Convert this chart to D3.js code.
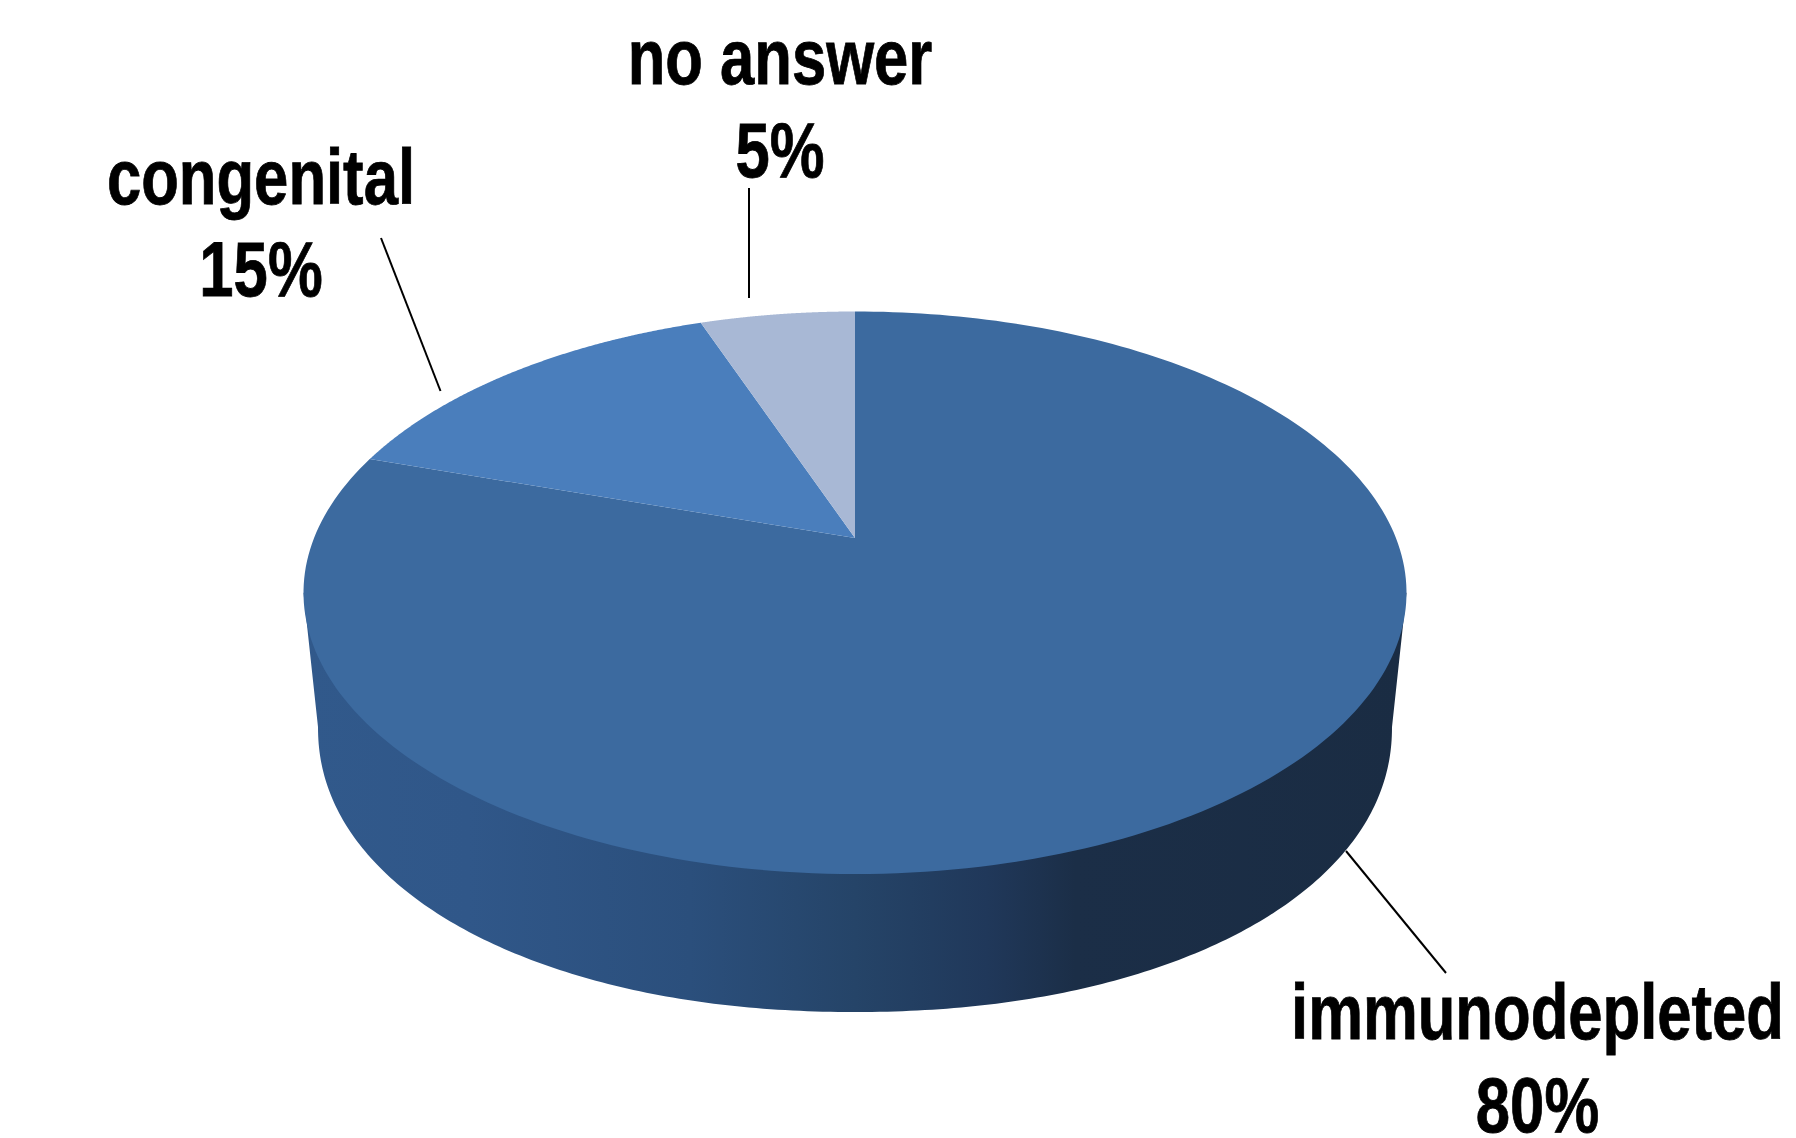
<!DOCTYPE html>
<html>
<head>
<meta charset="utf-8">
<title>Pie chart</title>
<script src="https://cdn.jsdelivr.net/npm/d3@7/dist/d3.min.js"></script>
<style>
  html, body { margin: 0; padding: 0; background: #fff; }
  svg { display: block; }
  text { font-family: "Liberation Sans", Arial, sans-serif; font-weight: 700; font-size: 78px; fill: #000; stroke: #000; stroke-width: 0.8px; text-anchor: middle; }
</style>
</head>
<body>
<svg id="chart" width="1796" height="1138"></svg>
<script>
// Chart data
const categories = ["immunodepleted", "congenital", "no answer"];
const shares = [80, 15, 5];
const sliceColors = ["#3c6a9f", "#4a7ebc", "#a8b8d5"];

// Label placement: slice label centre, baselines of the two lines
const labelLayout = [
  { x: 1537.5, nameY: 1039, valueY: 1132 },
  { x: 261, nameY: 204, valueY: 296 },
  { x: 780, nameY: 84, valueY: 177 }
];
// Leader lines from each label towards its slice
const leaders = [
  [[1346, 851], [1446, 973]],
  [[381, 238], [440.5, 391]],
  [[749, 188], [749, 298]]
];

const svg = d3.select("#chart");
const TAU = Math.PI * 2;

// Perspective projection of a unit disc onto the page. The disc centre lands
// above the middle of the resulting ellipse because the near edge is enlarged.
const TILT = 0.1947;
function disc(cx, cy, rx, ry) {
  const a = rx * Math.sqrt(1 - TILT * TILT);
  const b = ry * (1 - TILT * TILT);
  const c = cy - ry * TILT;
  return angle => {
    const u = Math.sin(angle), v = -Math.cos(angle);
    const w = 1 - TILT * v;
    return [cx + a * u / w, c + b * v / w];
  };
}
const topFace = disc(855, 592.75, 551.5, 281.25);
const apex = [855, 592.75 - 281.25 * TILT];

// Lower rim of the wall, slightly squarer than a true ellipse.
// t runs from -90 degrees (left end) through 0 (front) to +90 degrees (right end).
const RIM_POWER = 2 / 2.1;
function lowerRim(t) {
  const s = Math.sin(t), c = Math.cos(t);
  return [
    855 + 537 * Math.sign(s) * Math.pow(Math.abs(s), RIM_POWER),
    727 + 285 * Math.pow(Math.abs(c), RIM_POWER)
  ];
}

// Small foreshortening correction applied to the slice boundaries
const boundary = angle => angle + 0.03 * Math.sin(5 * angle);

// Slice angles, clockwise from twelve o'clock
const arcs = d3.pie().sort(null).value(d => d)(shares);
const line = d3.line();
const sample = (fn, from, to, n = 240) =>
  d3.range(n + 1).map(i => fn(from + (to - from) * i / n));

// Side wall shading runs from mid blue on the left to near navy on the right
const defs = svg.append("defs");
const wallGrad = defs.append("linearGradient")
  .attr("id", "wall")
  .attr("gradientUnits", "userSpaceOnUse")
  .attr("x1", 304).attr("x2", 1406).attr("y1", 0).attr("y2", 0);
[[0, "#31598b"], [0.15, "#305789"], [0.35, "#2b4f7c"], [0.5, "#254468"], [0.62, "#20385a"], [0.7, "#1b2e47"], [1, "#1a2c43"]]
  .forEach(([o, c]) => wallGrad.append("stop").attr("offset", o).attr("stop-color", c));

// The wall joins the two widest points of the top face to the lower rim
const widest = Math.PI / 2 + Math.asin(TILT);
const wallPoints = [
  topFace(TAU - widest),
  ...sample(lowerRim, -Math.PI / 2, Math.PI / 2),
  topFace(widest)
];
svg.append("path")
  .attr("d", line(wallPoints) + "Z")
  .attr("fill", "url(#wall)");

// Top faces of the slices
svg.append("g").selectAll("path")
  .data(arcs)
  .join("path")
  .attr("d", d => line([apex, ...sample(topFace, boundary(d.startAngle), boundary(d.endAngle))]) + "Z")
  .attr("fill", (d, i) => sliceColors[i]);

// Leader lines
svg.append("g").selectAll("path")
  .data(leaders)
  .join("path")
  .attr("d", d => line(d))
  .attr("fill", "none")
  .attr("stroke", "#000")
  .attr("stroke-width", 2);

// Two-line labels in a condensed bold face
const labels = svg.append("g").selectAll("g")
  .data(categories)
  .join("g");
const condensed = (x, y) => `translate(${x},${y}) scale(0.79,1)`;
labels.append("text")
  .attr("transform", (d, i) => condensed(labelLayout[i].x, labelLayout[i].nameY))
  .text(d => d);
labels.append("text")
  .attr("transform", (d, i) => condensed(labelLayout[i].x, labelLayout[i].valueY))
  .text((d, i) => shares[i] + "%");
</script>
</body>
</html>
